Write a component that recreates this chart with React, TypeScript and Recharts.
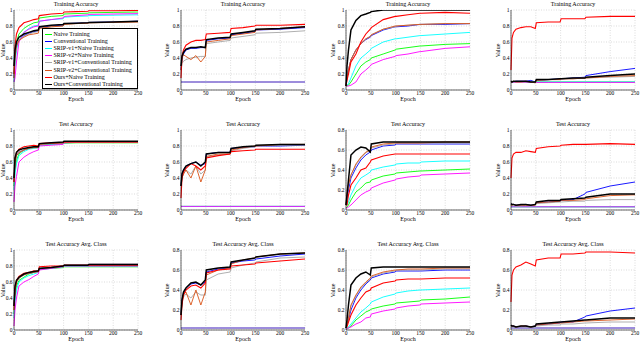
import React from 'react';
import { LineChart, Line, XAxis, YAxis, CartesianGrid } from 'recharts';

const epochs = [0, 2, 5, 10, 20, 30, 40, 49, 51, 75, 99, 101, 125, 149, 151, 200, 250];
const seriesNames = [
  'Naive Training',
  'Conventional Training',
  'SRIP-v1+Naive Training',
  'SRIP-v2+Naive Training',
  'SRIP-v1+Conventional Training',
  'SRIP-v2+Conventional Training',
  'Ours+Naive Training',
  'Ours+Conventional Training',
];
const seriesColors = ['#00ff00', '#0000ff', '#00ffff', '#ff00ff', '#a6a6a6', '#d95319', '#ff0000', '#000000'];
const seriesWidths = [0.9, 0.9, 0.9, 0.9, 0.9, 0.9, 1.1, 1.5];
const xTicks = [0, 50, 100, 150, 200, 250];
const yTicksFull = [0, 0.2, 0.4, 0.6, 0.8, 1];
const yTicksShort = [0, 0.2, 0.4, 0.6, 0.8];
const rowTitles = ['Training Accuracy', 'Test Accuracy', 'Test Accuracy Avg. Class'];

// Row 1: Training Accuracy
const train1 = [
  [0.2, 0.45, 0.6, 0.7, 0.77, 0.81, 0.84, 0.85, 0.9, 0.92, 0.93, 0.95, 0.955, 0.96, 0.965, 0.97, 0.975],
  [0.15, 0.4, 0.55, 0.62, 0.68, 0.71, 0.73, 0.74, 0.78, 0.8, 0.81, 0.83, 0.835, 0.84, 0.845, 0.85, 0.86],
  [0.1, 0.3, 0.5, 0.62, 0.72, 0.77, 0.8, 0.81, 0.86, 0.88, 0.89, 0.91, 0.92, 0.925, 0.93, 0.935, 0.94],
  [0.1, 0.15, 0.35, 0.6, 0.72, 0.76, 0.79, 0.8, 0.86, 0.88, 0.9, 0.92, 0.93, 0.94, 0.945, 0.95, 0.955],
  [0.15, 0.4, 0.55, 0.62, 0.67, 0.7, 0.72, 0.73, 0.77, 0.79, 0.8, 0.82, 0.83, 0.835, 0.84, 0.845, 0.85],
  [0.15, 0.4, 0.55, 0.62, 0.66, 0.69, 0.7, 0.71, 0.77, 0.79, 0.8, 0.82, 0.83, 0.835, 0.84, 0.845, 0.85],
  [0.2, 0.55, 0.7, 0.78, 0.84, 0.86, 0.88, 0.89, 0.93, 0.95, 0.96, 0.975, 0.98, 0.985, 0.99, 0.99, 0.995],
  [0.3, 0.5, 0.6, 0.66, 0.7, 0.72, 0.74, 0.75, 0.79, 0.81, 0.82, 0.83, 0.835, 0.84, 0.845, 0.85, 0.86],
];
const train2 = [
  [0.1, 0.1, 0.1, 0.1, 0.1, 0.1, 0.1, 0.1, 0.1, 0.1, 0.1, 0.1, 0.1, 0.1, 0.1, 0.1, 0.1],
  [0.25, 0.4, 0.45, 0.5, 0.52, 0.52, 0.53, 0.53, 0.62, 0.64, 0.65, 0.69, 0.71, 0.73, 0.75, 0.76, 0.78],
  [0.1, 0.1, 0.1, 0.1, 0.1, 0.1, 0.1, 0.1, 0.1, 0.1, 0.1, 0.1, 0.1, 0.1, 0.1, 0.1, 0.1],
  [0.1, 0.1, 0.1, 0.1, 0.1, 0.1, 0.1, 0.1, 0.1, 0.1, 0.1, 0.1, 0.1, 0.1, 0.1, 0.1, 0.1],
  [0.25, 0.33, 0.36, 0.38, 0.4, 0.41, 0.42, 0.42, 0.58, 0.6, 0.62, 0.65, 0.67, 0.69, 0.71, 0.72, 0.74],
  [0.25, 0.4, 0.44, 0.42, 0.38, 0.43, 0.35, 0.42, 0.6, 0.62, 0.64, 0.68, 0.7, 0.72, 0.75, 0.77, 0.79],
  [0.15, 0.42, 0.5, 0.56, 0.6, 0.62, 0.62, 0.63, 0.7, 0.71, 0.72, 0.77, 0.78, 0.8, 0.81, 0.81, 0.82],
  [0.3, 0.42, 0.47, 0.51, 0.53, 0.53, 0.54, 0.53, 0.63, 0.65, 0.66, 0.7, 0.72, 0.74, 0.76, 0.77, 0.79],
];
const train3 = [
  [0.05, 0.05, 0.06, 0.1, 0.2, 0.3, 0.35, 0.38, 0.4, 0.45, 0.5, 0.51, 0.53, 0.55, 0.55, 0.57, 0.58],
  [0.05, 0.15, 0.25, 0.38, 0.5, 0.58, 0.63, 0.66, 0.68, 0.75, 0.79, 0.79, 0.8, 0.82, 0.82, 0.82, 0.83],
  [0.05, 0.06, 0.08, 0.15, 0.3, 0.4, 0.45, 0.5, 0.52, 0.6, 0.64, 0.64, 0.66, 0.68, 0.68, 0.7, 0.72],
  [0.05, 0.05, 0.05, 0.06, 0.1, 0.2, 0.25, 0.3, 0.32, 0.38, 0.42, 0.43, 0.45, 0.48, 0.48, 0.52, 0.54],
  [0.05, 0.15, 0.25, 0.38, 0.5, 0.58, 0.64, 0.67, 0.69, 0.76, 0.79, 0.8, 0.81, 0.82, 0.82, 0.83, 0.83],
  [0.05, 0.15, 0.25, 0.38, 0.5, 0.58, 0.64, 0.67, 0.69, 0.76, 0.8, 0.8, 0.81, 0.82, 0.82, 0.83, 0.83],
  [0.05, 0.12, 0.2, 0.35, 0.45, 0.6, 0.7, 0.76, 0.78, 0.88, 0.92, 0.92, 0.94, 0.96, 0.96, 0.97, 0.96],
  [0.05, 0.3, 0.5, 0.75, 0.87, 0.93, 0.95, 0.97, 0.98, 1, 1, 1, 1, 1, 1, 1, 1],
];
const train4 = [
  [0.1, 0.1, 0.1, 0.1, 0.1, 0.1, 0.1, 0.1, 0.1, 0.1, 0.1, 0.1, 0.1, 0.1, 0.1, 0.1, 0.1],
  [0.1, 0.1, 0.1, 0.11, 0.11, 0.11, 0.12, 0.1, 0.12, 0.13, 0.14, 0.14, 0.15, 0.16, 0.18, 0.23, 0.27],
  [0.1, 0.1, 0.1, 0.1, 0.1, 0.1, 0.1, 0.1, 0.1, 0.1, 0.1, 0.1, 0.1, 0.1, 0.1, 0.1, 0.1],
  [0.095, 0.095, 0.095, 0.095, 0.095, 0.095, 0.095, 0.095, 0.095, 0.095, 0.095, 0.095, 0.095, 0.095, 0.095, 0.095, 0.095],
  [0.1, 0.1, 0.1, 0.1, 0.1, 0.1, 0.1, 0.09, 0.12, 0.13, 0.13, 0.14, 0.14, 0.15, 0.15, 0.16, 0.17],
  [0.1, 0.1, 0.11, 0.1, 0.1, 0.11, 0.1, 0.09, 0.12, 0.13, 0.13, 0.14, 0.14, 0.15, 0.15, 0.17, 0.18],
  [0.25, 0.65, 0.72, 0.76, 0.78, 0.79, 0.79, 0.77, 0.84, 0.85, 0.85, 0.89, 0.89, 0.89, 0.91, 0.92, 0.92],
  [0.11, 0.1, 0.11, 0.11, 0.11, 0.11, 0.1, 0.1, 0.13, 0.13, 0.14, 0.14, 0.15, 0.15, 0.16, 0.18, 0.2],
];

// Row 2: Test Accuracy
const test1 = [
  [0.3, 0.5, 0.62, 0.7, 0.75, 0.77, 0.79, 0.8, 0.81, 0.82, 0.83, 0.835, 0.84, 0.84, 0.84, 0.84, 0.84],
  [0.35, 0.6, 0.68, 0.72, 0.75, 0.77, 0.78, 0.78, 0.82, 0.83, 0.84, 0.85, 0.85, 0.85, 0.85, 0.85, 0.85],
  [0.25, 0.45, 0.58, 0.68, 0.73, 0.76, 0.77, 0.78, 0.81, 0.82, 0.83, 0.84, 0.845, 0.85, 0.85, 0.85, 0.85],
  [0.1, 0.3, 0.42, 0.6, 0.66, 0.7, 0.73, 0.75, 0.8, 0.81, 0.82, 0.84, 0.845, 0.85, 0.85, 0.85, 0.85],
  [0.35, 0.6, 0.68, 0.72, 0.75, 0.77, 0.78, 0.78, 0.82, 0.83, 0.84, 0.85, 0.85, 0.85, 0.85, 0.85, 0.85],
  [0.35, 0.6, 0.68, 0.72, 0.75, 0.77, 0.78, 0.78, 0.82, 0.83, 0.84, 0.85, 0.85, 0.85, 0.85, 0.85, 0.85],
  [0.35, 0.65, 0.72, 0.76, 0.79, 0.8, 0.81, 0.8, 0.83, 0.84, 0.84, 0.85, 0.85, 0.85, 0.85, 0.85, 0.85],
  [0.4, 0.65, 0.72, 0.75, 0.77, 0.78, 0.79, 0.79, 0.83, 0.84, 0.85, 0.86, 0.86, 0.86, 0.86, 0.86, 0.86],
];
const test2 = [
  [0.045, 0.045, 0.045, 0.045, 0.045, 0.045, 0.045, 0.045, 0.045, 0.045, 0.045, 0.045, 0.045, 0.045, 0.045, 0.045, 0.045],
  [0.3, 0.45, 0.5, 0.55, 0.58, 0.6, 0.56, 0.58, 0.7, 0.72, 0.72, 0.77, 0.78, 0.79, 0.8, 0.8, 0.81],
  [0.045, 0.045, 0.045, 0.045, 0.045, 0.045, 0.045, 0.045, 0.045, 0.045, 0.045, 0.045, 0.045, 0.045, 0.045, 0.045, 0.045],
  [0.045, 0.045, 0.045, 0.045, 0.045, 0.045, 0.045, 0.045, 0.045, 0.045, 0.045, 0.045, 0.045, 0.045, 0.045, 0.045, 0.045],
  [0.3, 0.4, 0.45, 0.5, 0.45, 0.55, 0.45, 0.5, 0.66, 0.69, 0.7, 0.74, 0.77, 0.79, 0.8, 0.81, 0.81],
  [0.3, 0.4, 0.45, 0.5, 0.4, 0.55, 0.35, 0.5, 0.67, 0.7, 0.7, 0.75, 0.78, 0.8, 0.8, 0.82, 0.82],
  [0.15, 0.4, 0.48, 0.52, 0.58, 0.55, 0.5, 0.55, 0.65, 0.68, 0.7, 0.73, 0.74, 0.75, 0.76, 0.76, 0.76],
  [0.3, 0.45, 0.5, 0.55, 0.58, 0.6, 0.55, 0.6, 0.7, 0.72, 0.72, 0.77, 0.79, 0.8, 0.81, 0.82, 0.82],
];
const test3 = [
  [0.02, 0.03, 0.05, 0.1, 0.18, 0.22, 0.27, 0.28, 0.3, 0.34, 0.36, 0.37, 0.38, 0.39, 0.39, 0.4, 0.41],
  [0.05, 0.12, 0.2, 0.32, 0.42, 0.5, 0.55, 0.58, 0.6, 0.64, 0.65, 0.66, 0.66, 0.66, 0.66, 0.66, 0.66],
  [0.05, 0.05, 0.08, 0.15, 0.25, 0.32, 0.35, 0.38, 0.4, 0.43, 0.45, 0.46, 0.47, 0.47, 0.48, 0.49, 0.49],
  [0.02, 0.02, 0.03, 0.05, 0.1, 0.15, 0.18, 0.2, 0.22, 0.27, 0.3, 0.31, 0.33, 0.34, 0.35, 0.36, 0.37],
  [0.05, 0.15, 0.25, 0.35, 0.45, 0.52, 0.57, 0.6, 0.62, 0.65, 0.66, 0.67, 0.67, 0.67, 0.67, 0.67, 0.67],
  [0.05, 0.15, 0.25, 0.35, 0.46, 0.53, 0.58, 0.6, 0.63, 0.66, 0.67, 0.67, 0.67, 0.67, 0.67, 0.68, 0.68],
  [0.05, 0.05, 0.15, 0.25, 0.32, 0.4, 0.42, 0.48, 0.5, 0.54, 0.56, 0.56, 0.56, 0.56, 0.56, 0.56, 0.56],
  [0.05, 0.15, 0.3, 0.55, 0.6, 0.63, 0.62, 0.58, 0.66, 0.68, 0.68, 0.68, 0.68, 0.68, 0.68, 0.68, 0.68],
];
const test4 = [
  [0.04, 0.04, 0.04, 0.04, 0.04, 0.04, 0.04, 0.04, 0.04, 0.04, 0.04, 0.04, 0.04, 0.04, 0.04, 0.04, 0.04],
  [0.07, 0.07, 0.07, 0.06, 0.06, 0.07, 0.06, 0.07, 0.09, 0.1, 0.11, 0.12, 0.13, 0.2, 0.22, 0.3, 0.35],
  [0.04, 0.04, 0.04, 0.04, 0.04, 0.04, 0.04, 0.04, 0.04, 0.04, 0.04, 0.04, 0.04, 0.04, 0.04, 0.04, 0.04],
  [0.04, 0.04, 0.04, 0.04, 0.04, 0.04, 0.04, 0.04, 0.04, 0.04, 0.04, 0.04, 0.04, 0.04, 0.04, 0.04, 0.04],
  [0.06, 0.06, 0.06, 0.05, 0.05, 0.06, 0.05, 0.06, 0.08, 0.09, 0.1, 0.1, 0.11, 0.11, 0.12, 0.13, 0.13],
  [0.06, 0.06, 0.07, 0.06, 0.06, 0.06, 0.06, 0.06, 0.09, 0.1, 0.11, 0.12, 0.12, 0.13, 0.14, 0.18, 0.19],
  [0.4, 0.65, 0.7, 0.72, 0.72, 0.74, 0.73, 0.72, 0.77, 0.79, 0.8, 0.81, 0.82, 0.82, 0.82, 0.83, 0.82],
  [0.08, 0.07, 0.07, 0.06, 0.07, 0.07, 0.06, 0.07, 0.1, 0.12, 0.12, 0.13, 0.14, 0.15, 0.16, 0.2, 0.2],
];

// Row 3: Test Accuracy Avg. Class
const avg1 = [
  [0.2, 0.4, 0.55, 0.62, 0.66, 0.7, 0.72, 0.74, 0.76, 0.77, 0.78, 0.79, 0.79, 0.79, 0.79, 0.79, 0.79],
  [0.3, 0.5, 0.6, 0.65, 0.69, 0.71, 0.72, 0.73, 0.77, 0.78, 0.8, 0.81, 0.81, 0.81, 0.82, 0.82, 0.82],
  [0.15, 0.35, 0.5, 0.6, 0.65, 0.68, 0.7, 0.72, 0.76, 0.77, 0.79, 0.8, 0.8, 0.8, 0.8, 0.8, 0.8],
  [0.05, 0.25, 0.4, 0.55, 0.6, 0.63, 0.67, 0.7, 0.75, 0.77, 0.79, 0.8, 0.8, 0.8, 0.8, 0.8, 0.8],
  [0.3, 0.5, 0.6, 0.65, 0.69, 0.71, 0.72, 0.73, 0.77, 0.78, 0.8, 0.81, 0.81, 0.81, 0.82, 0.82, 0.82],
  [0.3, 0.5, 0.6, 0.65, 0.69, 0.71, 0.72, 0.73, 0.77, 0.78, 0.8, 0.81, 0.81, 0.81, 0.82, 0.82, 0.82],
  [0.25, 0.5, 0.62, 0.67, 0.71, 0.72, 0.74, 0.73, 0.79, 0.8, 0.8, 0.81, 0.81, 0.81, 0.81, 0.81, 0.81],
  [0.3, 0.55, 0.62, 0.66, 0.7, 0.72, 0.73, 0.74, 0.77, 0.78, 0.8, 0.81, 0.81, 0.81, 0.82, 0.82, 0.82],
];
const avg2 = [
  [0.02, 0.02, 0.02, 0.02, 0.02, 0.02, 0.02, 0.02, 0.02, 0.02, 0.02, 0.02, 0.02, 0.02, 0.02, 0.02, 0.02],
  [0.15, 0.3, 0.37, 0.42, 0.46, 0.47, 0.45, 0.48, 0.58, 0.61, 0.62, 0.67, 0.69, 0.7, 0.71, 0.74, 0.76],
  [0.02, 0.02, 0.02, 0.02, 0.02, 0.02, 0.02, 0.02, 0.02, 0.02, 0.02, 0.02, 0.02, 0.02, 0.02, 0.02, 0.02],
  [0.02, 0.02, 0.02, 0.02, 0.02, 0.02, 0.02, 0.02, 0.02, 0.02, 0.02, 0.02, 0.02, 0.02, 0.02, 0.02, 0.02],
  [0.15, 0.28, 0.33, 0.36, 0.32, 0.38, 0.35, 0.35, 0.5, 0.56, 0.58, 0.62, 0.65, 0.67, 0.68, 0.72, 0.73],
  [0.15, 0.28, 0.35, 0.38, 0.25, 0.4, 0.25, 0.38, 0.55, 0.6, 0.62, 0.66, 0.7, 0.72, 0.73, 0.76, 0.77],
  [0.1, 0.25, 0.35, 0.4, 0.44, 0.45, 0.42, 0.47, 0.57, 0.6, 0.61, 0.64, 0.65, 0.66, 0.67, 0.69, 0.71],
  [0.15, 0.3, 0.38, 0.42, 0.47, 0.48, 0.45, 0.5, 0.6, 0.62, 0.63, 0.68, 0.7, 0.72, 0.73, 0.76, 0.77],
];
const avg3 = [
  [0.01, 0.01, 0.02, 0.04, 0.1, 0.14, 0.18, 0.2, 0.21, 0.24, 0.26, 0.27, 0.28, 0.29, 0.3, 0.31, 0.33],
  [0.02, 0.05, 0.1, 0.2, 0.32, 0.4, 0.46, 0.5, 0.52, 0.56, 0.58, 0.59, 0.59, 0.59, 0.59, 0.6, 0.6],
  [0.02, 0.02, 0.03, 0.06, 0.12, 0.18, 0.22, 0.26, 0.28, 0.33, 0.36, 0.37, 0.39, 0.4, 0.4, 0.41, 0.42],
  [0.01, 0.01, 0.02, 0.03, 0.06, 0.08, 0.12, 0.13, 0.16, 0.19, 0.21, 0.22, 0.24, 0.25, 0.26, 0.27, 0.28],
  [0.02, 0.05, 0.12, 0.24, 0.34, 0.42, 0.47, 0.51, 0.53, 0.57, 0.59, 0.6, 0.6, 0.6, 0.6, 0.61, 0.61],
  [0.02, 0.05, 0.12, 0.25, 0.35, 0.43, 0.48, 0.52, 0.54, 0.58, 0.6, 0.6, 0.61, 0.61, 0.61, 0.62, 0.62],
  [0.02, 0.03, 0.08, 0.15, 0.25, 0.32, 0.38, 0.4, 0.42, 0.47, 0.49, 0.5, 0.51, 0.51, 0.51, 0.52, 0.52],
  [0.02, 0.1, 0.25, 0.45, 0.52, 0.56, 0.58, 0.55, 0.62, 0.63, 0.63, 0.63, 0.63, 0.63, 0.63, 0.63, 0.63],
];
const avg4 = [
  [0.02, 0.02, 0.02, 0.02, 0.02, 0.02, 0.02, 0.02, 0.02, 0.02, 0.02, 0.02, 0.02, 0.02, 0.02, 0.02, 0.02],
  [0.04, 0.04, 0.04, 0.03, 0.03, 0.04, 0.03, 0.04, 0.05, 0.06, 0.07, 0.08, 0.08, 0.13, 0.14, 0.19, 0.22],
  [0.02, 0.02, 0.02, 0.02, 0.02, 0.02, 0.02, 0.02, 0.02, 0.02, 0.02, 0.02, 0.02, 0.02, 0.02, 0.02, 0.02],
  [0.02, 0.02, 0.02, 0.02, 0.02, 0.02, 0.02, 0.02, 0.02, 0.02, 0.02, 0.02, 0.02, 0.02, 0.02, 0.02, 0.02],
  [0.03, 0.03, 0.03, 0.03, 0.03, 0.03, 0.03, 0.03, 0.04, 0.05, 0.05, 0.06, 0.06, 0.07, 0.07, 0.08, 0.08],
  [0.04, 0.04, 0.04, 0.03, 0.04, 0.04, 0.03, 0.04, 0.05, 0.06, 0.07, 0.07, 0.08, 0.09, 0.09, 0.1, 0.11],
  [0.28, 0.55, 0.6, 0.63, 0.65, 0.68, 0.66, 0.64, 0.7, 0.72, 0.72, 0.76, 0.76, 0.77, 0.78, 0.78, 0.77],
  [0.05, 0.04, 0.04, 0.03, 0.04, 0.04, 0.03, 0.04, 0.06, 0.07, 0.08, 0.08, 0.09, 0.1, 0.1, 0.12, 0.12],
];

const panelRows = [
  [train1, train2, train3, train4],
  [test1, test2, test3, test4],
  [avg1, avg2, avg3, avg4],
];
const panelYMax = [
  [1, 1, 1, 1],
  [1, 1, 0.8, 1],
  [1, 0.8, 0.8, 0.8],
];

const FONT = "'Liberation Serif', 'Times New Roman', serif";
const colLeft = [14, 181, 346, 511];
const rowTop = [10, 130, 250];
const valueLabelOffset = [11, 14, 13, 13];
const PLOT_W = 124;
const PLOT_H = 80;
const AXIS_W = 22;
const AXIS_H = 17;
const M_TOP = 10;
const M_RIGHT = 6;

function Panel({ values, yMax, title, left, top, vOff }: any) {
  const data = epochs.map((e, i) => {
    const o: any = { e };
    values.forEach((s: number[], k: number) => {
      o['s' + k] = s[i];
    });
    return o;
  });
  const yTicks = yMax === 1 ? yTicksFull : yTicksShort;
  const tickStyle = { fontSize: 5.5, fill: '#000', fontFamily: FONT };
  return (
    <>
      <div
        style={{
          position: 'absolute',
          left: left - AXIS_W,
          top: top - M_TOP,
          width: PLOT_W + AXIS_W + M_RIGHT,
          height: PLOT_H + M_TOP + AXIS_H,
        }}
      >
        <LineChart
          width={PLOT_W + AXIS_W + M_RIGHT}
          height={PLOT_H + M_TOP + AXIS_H}
          data={data}
          margin={{ top: M_TOP, right: M_RIGHT, left: 0, bottom: 0 }}
        >
          <CartesianGrid stroke="#c4c4c4" strokeDasharray="1 1.5" strokeWidth={0.6} />
          <XAxis
            dataKey="e"
            type="number"
            domain={[0, 250]}
            ticks={xTicks}
            interval={0}
            tick={tickStyle}
            tickLine={false}
            tickSize={1}
            tickMargin={0}
            axisLine={{ stroke: '#000', strokeWidth: 0.6 }}
            height={AXIS_H}
          />
          <XAxis
            xAxisId="top"
            orientation="top"
            dataKey="e"
            type="number"
            domain={[0, 250]}
            tick={false}
            tickLine={false}
            axisLine={{ stroke: '#000', strokeWidth: 0.6 }}
            height={0}
          />
          <YAxis
            type="number"
            domain={[0, yMax]}
            ticks={yTicks}
            interval={0}
            tick={tickStyle}
            tickLine={false}
            tickSize={1}
            tickMargin={0.5}
            axisLine={{ stroke: '#000', strokeWidth: 0.6 }}
            width={AXIS_W}
            allowDataOverflow
          />
          <YAxis
            yAxisId="right"
            orientation="right"
            type="number"
            domain={[0, yMax]}
            tick={false}
            tickLine={false}
            axisLine={{ stroke: '#000', strokeWidth: 0.6 }}
            width={0}
          />
          {values.map((_: number[], k: number) => (
            <Line
              key={k}
              dataKey={'s' + k}
              type="linear"
              stroke={seriesColors[k]}
              strokeWidth={seriesWidths[k]}
              dot={false}
              isAnimationActive={false}
            />
          ))}
        </LineChart>
      </div>
      <div
        style={{
          position: 'absolute',
          left: left,
          width: PLOT_W,
          top: top - 9.5,
          textAlign: 'center',
          fontFamily: FONT,
          fontSize: 6,
          lineHeight: '7px',
          whiteSpace: 'nowrap',
        }}
      >
        {title}
      </div>
      <div
        style={{
          position: 'absolute',
          left: left,
          width: PLOT_W,
          top: top + PLOT_H + 6,
          textAlign: 'center',
          fontFamily: FONT,
          fontSize: 6,
          lineHeight: '7px',
        }}
      >
        Epoch
      </div>
      <div
        style={{
          position: 'absolute',
          left: left - vOff - 20,
          top: top + PLOT_H / 2 - 3.5,
          width: 40,
          textAlign: 'center',
          fontFamily: FONT,
          fontSize: 6,
          lineHeight: '7px',
          transform: 'rotate(-90deg)',
        }}
      >
        Value
      </div>
    </>
  );
}

function LegendBox() {
  return (
    <div
      style={{
        position: 'absolute',
        left: 42,
        top: 28,
        width: 96,
        height: 61,
        background: '#fff',
        border: '0.6px solid #000',
        boxSizing: 'border-box',
        paddingTop: 1.5,
      }}
    >
      {seriesNames.map((n, k) => (
        <div key={k} style={{ display: 'flex', alignItems: 'center', height: 7.2 }}>
          <div
            style={{
              marginLeft: 1.5,
              width: 7,
              height: 0,
              borderTop: `${seriesWidths[k]}px solid ${seriesColors[k]}`,
            }}
          />
          <div
            style={{
              marginLeft: 2,
              fontFamily: FONT,
              fontSize: 6,
              lineHeight: '7px',
              whiteSpace: 'nowrap',
            }}
          >
            {n}
          </div>
        </div>
      ))}
    </div>
  );
}

export default function App() {
  return (
    <div
      style={{
        position: 'absolute',
        left: 0,
        top: 0,
        width: 640,
        height: 344,
        background: '#fff',
        overflow: 'hidden',
      }}
    >
      {panelRows.map((row, r) =>
        row.map((values, c) => (
          <Panel
            key={r + '-' + c}
            values={values}
            yMax={panelYMax[r][c]}
            title={rowTitles[r]}
            left={colLeft[c]}
            top={rowTop[r]}
            vOff={valueLabelOffset[c]}
          />
        ))
      )}
      <LegendBox />
    </div>
  );
}
